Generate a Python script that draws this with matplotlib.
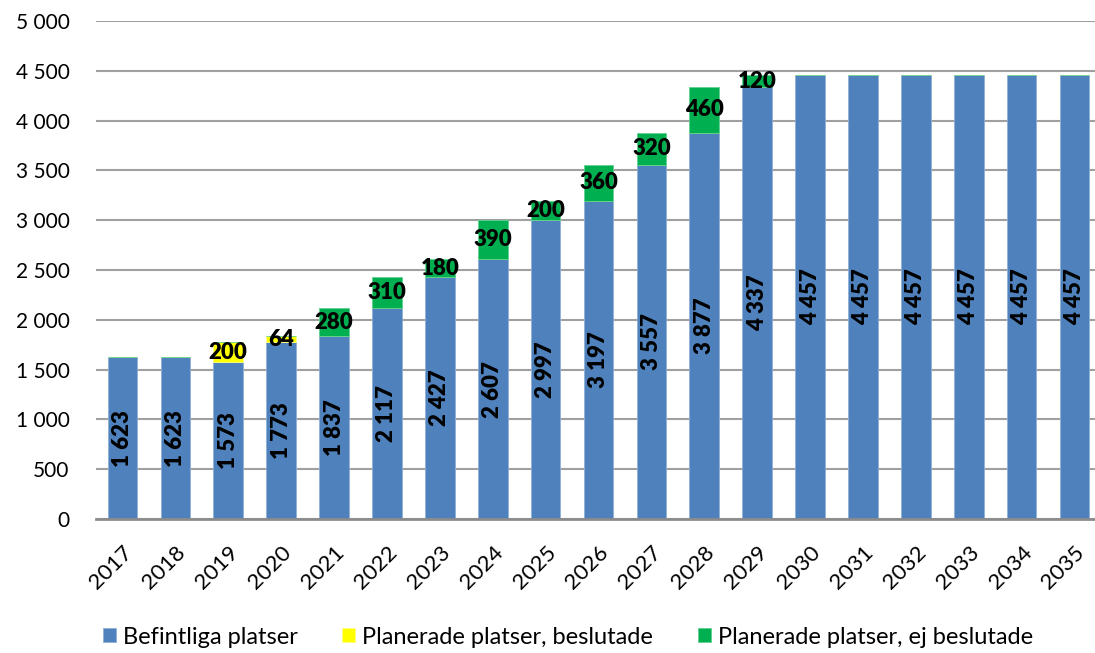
import matplotlib
matplotlib.use('Agg')
import matplotlib.pyplot as plt
from matplotlib.ticker import FuncFormatter
import numpy as np

years = [str(y) for y in range(2017, 2036)]
befintliga = [1623, 1623, 1573, 1773, 1837, 2117, 2427, 2607, 2997, 3197,
              3557, 3877, 4337, 4457, 4457, 4457, 4457, 4457, 4457]
beslutade = [0, 0, 200, 64, 0, 0, 0, 0, 0, 0,
             0, 0, 0, 0, 0, 0, 0, 0, 0]
ej_beslutade = [0, 0, 0, 0, 280, 310, 180, 390, 200, 360,
                320, 460, 120, 0, 0, 0, 0, 0, 0]

labels = ["Befintliga platser", "Planerade platser, beslutade",
          "Planerade platser, ej beslutade"]
colors = ["#4F81BD", "#FFFF00", "#00B050"]

plt.rcParams['font.family'] = ['Lato', 'DejaVu Sans']


def fmt(v, pos=None):
    return f"{int(v):,}".replace(",", " ")


fig = plt.figure(figsize=(10.95, 6.53), dpi=100)
W, H = 1095, 653
ax = fig.add_axes([96 / W, 134 / H, (1101 - 96) / W, 498 / H])

x = np.arange(len(years))
blue = np.array(befintliga)
yel = np.array(beslutade)
grn = np.array(ej_beslutade)
width = 0.56

ax.bar(x, blue, width, color=colors[0], edgecolor="#8fb0d8", linewidth=0.6,
       label=labels[0], zorder=3)
ax.bar(x, yel, width, bottom=blue, color=colors[1], edgecolor="#ffff80",
       linewidth=0.6, label=labels[1], zorder=3)
ax.bar(x, grn, width, bottom=blue + yel, color=colors[2], edgecolor="#60d090",
       linewidth=0.6, label=labels[2], zorder=3)

# value labels: totals rotated inside the blue part, increments centred on top
for i in range(len(years)):
    ax.text(x[i], blue[i] / 2, fmt(blue[i]), rotation=90, ha="center",
            va="center", fontsize=16, fontweight="heavy", zorder=5)
    if yel[i] > 0:
        ax.text(x[i], blue[i] + yel[i] / 2, fmt(yel[i]), ha="center",
                va="center", fontsize=16, fontweight="heavy", zorder=5)
    if grn[i] > 0:
        ax.text(x[i], blue[i] + yel[i] + grn[i] / 2, fmt(grn[i]), ha="center",
                va="center", fontsize=16, fontweight="heavy", zorder=5)

ax.set_xlim(-0.5, len(years) - 0.5)
ax.set_ylim(0, 5000)
ax.set_yticks(np.arange(0, 5001, 500))
ax.yaxis.set_major_formatter(FuncFormatter(fmt))
ax.set_xticks(x)
ax.set_xticklabels(years, rotation=45, ha="right", rotation_mode="anchor")
ax.tick_params(axis="y", length=0, labelsize=15, pad=19)
ax.tick_params(axis="x", length=0, labelsize=16, pad=17)
ax.grid(axis="y", color="#a0a0a0", linewidth=1.5, zorder=0)
for s in ["top", "right", "left"]:
    ax.spines[s].set_visible(False)
ax.spines["bottom"].set_color("#8c8c8c")
ax.spines["bottom"].set_linewidth(2)
ax.spines["bottom"].set_zorder(4)

fig.legend(loc="center", bbox_to_anchor=(568 / W, 16 / H), ncol=3,
           frameon=False, fontsize=17, handlelength=0.55, handleheight=0.55,
           handletextpad=0.3, columnspacing=1.9, borderpad=0)

fig.savefig("out.png", dpi=100)
